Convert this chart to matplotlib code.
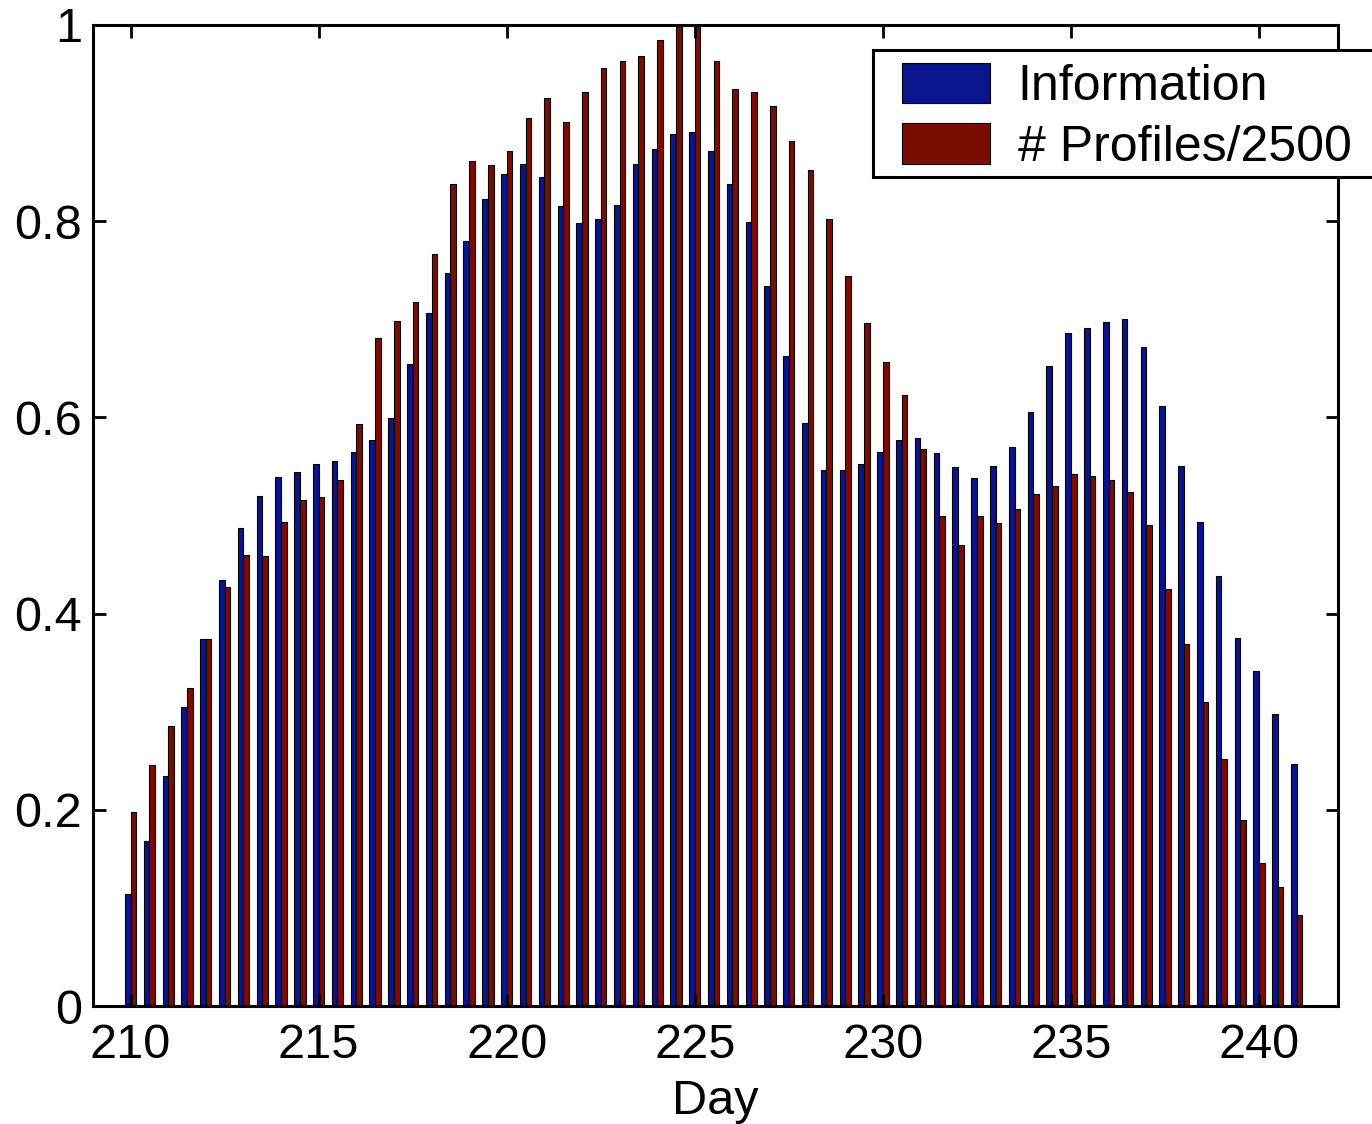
import numpy as np
import matplotlib
matplotlib.use("Agg")
import matplotlib.pyplot as plt
from matplotlib.patches import Rectangle

plt.rcParams['font.family'] = ['Liberation Sans', 'DejaVu Sans']

# half-day bins
days = np.arange(210, 241.5, 0.5)

information = [0.114, 0.168, 0.234, 0.305, 0.374, 0.434, 0.487, 0.520, 0.539, 0.544,
               0.553, 0.556, 0.565, 0.577, 0.599, 0.654, 0.706, 0.747, 0.780, 0.823,
               0.848, 0.858, 0.845, 0.815, 0.798, 0.802, 0.817, 0.858, 0.874, 0.889,
               0.891, 0.872, 0.838, 0.799, 0.734, 0.663, 0.594, 0.546, 0.546, 0.553,
               0.565, 0.577, 0.579, 0.564, 0.549, 0.538, 0.550, 0.570, 0.605, 0.652,
               0.686, 0.691, 0.697, 0.700, 0.672, 0.612, 0.550, 0.493, 0.438, 0.375,
               0.341, 0.298, 0.247]

profiles = [0.198, 0.246, 0.285, 0.324, 0.374, 0.427, 0.460, 0.459, 0.493, 0.516,
            0.519, 0.536, 0.593, 0.681, 0.698, 0.718, 0.767, 0.838, 0.861, 0.857,
            0.872, 0.905, 0.926, 0.901, 0.932, 0.956, 0.963, 0.968, 0.985, 0.999,
            1.000, 0.963, 0.935, 0.932, 0.917, 0.882, 0.852, 0.802, 0.744, 0.696,
            0.656, 0.623, 0.568, 0.499, 0.470, 0.499, 0.492, 0.507, 0.522, 0.530,
            0.542, 0.540, 0.536, 0.524, 0.490, 0.425, 0.369, 0.310, 0.252, 0.190,
            0.146, 0.121, 0.093]

labels = ['Information', '# Profiles/2500']
xticks = [210, 215, 220, 225, 230, 235, 240]
yticks = [0, 0.2, 0.4, 0.6, 0.8, 1]
ytick_labels = ['0', '0.2', '0.4', '0.6', '0.8', '1']

blue = '#0a148c'
red = '#7d0c00'
w = 0.15

W, H = 1372, 1124
fig = plt.figure(figsize=(W / 100, H / 100), dpi=100)
ax = fig.add_axes([93 / W, 1 - 1006 / H, (1338 - 93) / W, (1006 - 25) / H])

ax.bar(days - w / 2, information, width=w, color=blue, edgecolor='black',
       linewidth=0.8, label=labels[0])
ax.bar(days + w / 2, profiles, width=w, color=red, edgecolor='black',
       linewidth=0.8, label=labels[1])

ax.set_xlim(209, 242.1)
ax.set_ylim(0, 1)
ax.set_xticks(xticks)
ax.set_yticks(yticks)
ax.set_yticklabels(ytick_labels)
ax.tick_params(direction='in', length=9, width=2, top=True, right=True,
               labelsize=35)
ax.tick_params(axis='x', pad=12)
ax.tick_params(axis='y', pad=8)
for s in ax.spines.values():
    s.set_linewidth(2.2)

ax.set_xlabel('Day', fontsize=35, labelpad=8)

# legend box runs off the right edge of the figure
box = Rectangle((873 / W, 1 - 177 / H), (1400 - 873) / W, 127 / H,
                transform=fig.transFigure, facecolor='white', edgecolor='black',
                linewidth=2.2, clip_on=False, zorder=4.5)
ax.add_patch(box)

leg = ax.legend(loc='upper left', bbox_to_anchor=(902 / W, 1 - 63 / H),
                bbox_transform=fig.transFigure, borderaxespad=0, fontsize=36,
                handlelength=1.76, handleheight=0.86, handletextpad=0.55,
                labelspacing=0.26, borderpad=0, frameon=False)
leg.set_zorder(5)

fig.savefig('out.png', dpi=100)
